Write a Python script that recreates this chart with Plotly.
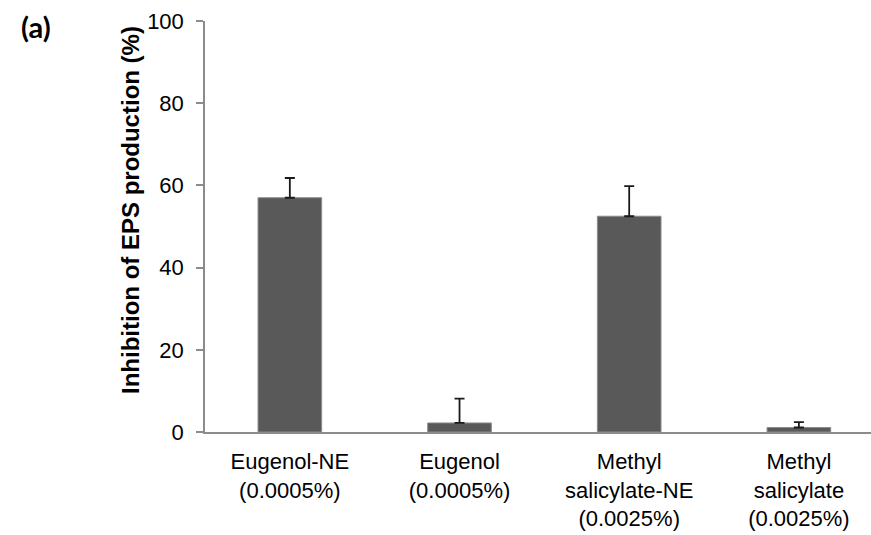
import plotly.graph_objects as go

categories = ["Eugenol-NE<br>(0.0005%)", "Eugenol<br>(0.0005%)",
              "Methyl<br>salicylate-NE<br>(0.0025%)", "Methyl<br>salicylate<br>(0.0025%)"]
values = [57.0, 2.2, 52.5, 1.1]
errors = [4.8, 5.9, 7.3, 1.3]
y_ticks = [0, 20, 40, 60, 80, 100]

W, H = 871, 535
L, T, B = 205, 21, 103

fig = go.Figure()
fig.add_trace(go.Bar(
    x=list(range(len(categories))), y=values,
    width=0.375,
    marker=dict(color="#595959", line=dict(color="#8c8c8c", width=1)),
    error_y=dict(type="data", array=errors, arrayminus=[0]*len(errors),
                 symmetric=False, color="#1a1a1a", thickness=1.8, width=5),
    showlegend=False,
))

fig.update_layout(
    width=W, height=H,
    margin=dict(l=L, r=0, t=T, b=B, autoexpand=False),
    plot_bgcolor="white", paper_bgcolor="white",
    font=dict(family="Liberation Sans, Arial", size=22, color="#000000"),
    bargap=0.6,
)
fig.update_xaxes(
    range=[-0.5, 3.425],
    tickmode="array", tickvals=list(range(len(categories))), ticktext=categories,
    showline=True, linecolor="#8c8c8c", linewidth=1.5,
    showgrid=False, zeroline=False, ticks="",
    ticklabelstandoff=9,
    tickfont=dict(size=22),
)
fig.update_yaxes(
    range=[0, 100], tickmode="array", tickvals=y_ticks,
    showline=True, linecolor="#8c8c8c", linewidth=1.5,
    showgrid=False, zeroline=False,
    ticks="outside", ticklen=7, tickcolor="#8c8c8c", tickwidth=1.5,
    ticklabelstandoff=8,
    tickfont=dict(size=22),
)

pw = W - L
ph = H - T - B
fig.add_annotation(
    text="<b>Inhibition of EPS production (%)</b>", textangle=-90,
    xref="paper", yref="paper", x=(130 - L) / pw, y=(H - B - 210) / ph,
    xanchor="center", yanchor="middle", showarrow=False,
    font=dict(family="Liberation Sans, Arial", size=24, color="#000000"),
)
fig.add_annotation(
    text="<b>(a)</b>",
    xref="paper", yref="paper", x=(36 - L) / pw, y=(H - B - 27) / ph,
    xanchor="center", yanchor="middle", showarrow=False,
    font=dict(family="Lato, Open Sans", size=29, color="#000000"),
)

fig.write_html("out.html")
